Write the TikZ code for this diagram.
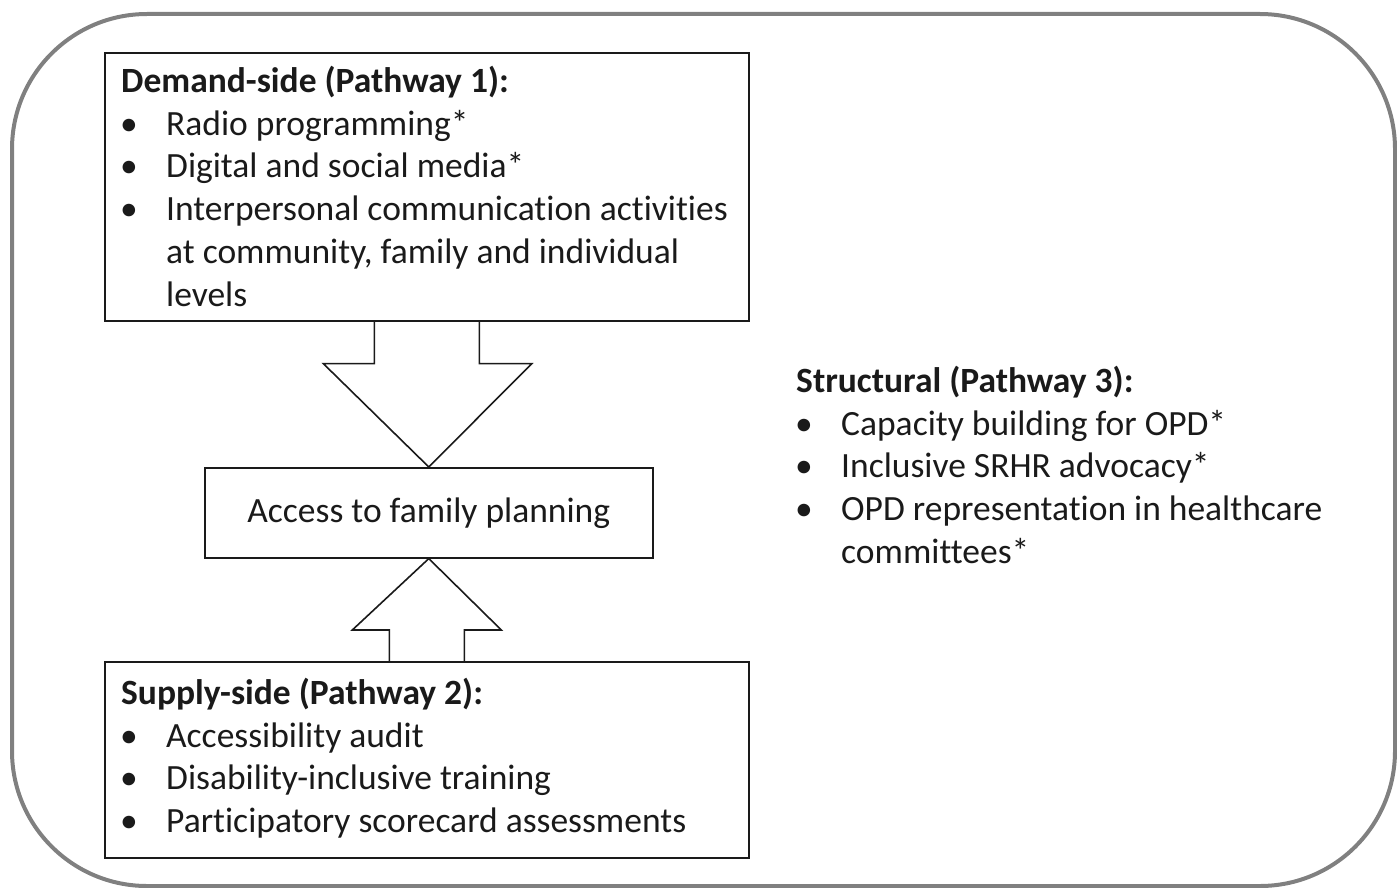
\documentclass[tikz,border=0pt]{standalone}
\usepackage{fontspec}
\setmainfont{Carlito}[Ligatures={NoCommon}]
\usetikzlibrary{calc}
\definecolor{framegray}{HTML}{808080}
\definecolor{ink}{HTML}{1A1A1A}
\tikzset{
  boxshape/.style={draw=ink, line width=1.6pt, minimum width=#1, anchor=north west, inner sep=0pt},
  arrowshape/.style={draw=ink, line width=1.6pt, line join=miter},
  txt/.style={anchor=north west, inner sep=0pt, text=ink, font=\fontsize{35.5}{42.7}\selectfont, align=left},
}
\newcommand{\bul}{\makebox[45pt][l]{\hspace{-1pt}\textbullet}}
\newcommand{\ind}{\makebox[45pt]{}}
\begin{document}
\begin{tikzpicture}[x=1pt,y=-1pt]
\useasboundingbox (0,0) rectangle (1397,888);
\draw[framegray, line width=4pt, rounded corners=135pt] (12,14) rectangle (1395,886);
% boxes
\node[boxshape=644pt, minimum height=268pt] (demand) at (104,52) {};
\node[boxshape=448pt, minimum height=90pt] (center) at (204,467) {};
\node[boxshape=644pt, minimum height=196pt] (supply) at (104,661) {};
% texts
\node[txt] (demandtxt) at (121,66) {\textbf{Demand-side (Pathway 1):}\\
\bul Radio programming*\\
\bul Digital and social media*\\
\bul Interpersonal communication activities\\
\ind at community, family and individual\\
\ind levels};
\node[text=ink, font=\fontsize{35.5}{42.7}\selectfont, inner sep=0pt] (centertxt) at (center.center) {Access to family planning};
\node[txt] (supplytxt) at (121,678) {\textbf{Supply-side (Pathway 2):}\\
\bul Accessibility audit\\
\bul Disability-inclusive training\\
\bul Participatory scorecard assessments};
\node[txt] (structtxt) at (796,366) {\textbf{Structural (Pathway 3):}\\
\bul Capacity building for OPD*\\
\bul Inclusive SRHR advocacy*\\
\bul OPD representation in healthcare\\
\ind committees*};
% down arrow
\draw[arrowshape] ($(demand.south)+(-52.5,0)$) -- ++(0,42) -- ++(-51,0) -- (center.north)
  -- ($(demand.south)+(105,42)$) -- ++(-52.5,0) -- ++(0,-42);
% up arrow
\draw[arrowshape] ($(supply.north)+(-37.5,0)$) -- ++(0,-31) -- ++(-37,0) -- (center.south)
  -- ($(supply.north)+(74.5,-31)$) -- ++(-37,0) -- ++(0,31);
\end{tikzpicture}
\end{document}
